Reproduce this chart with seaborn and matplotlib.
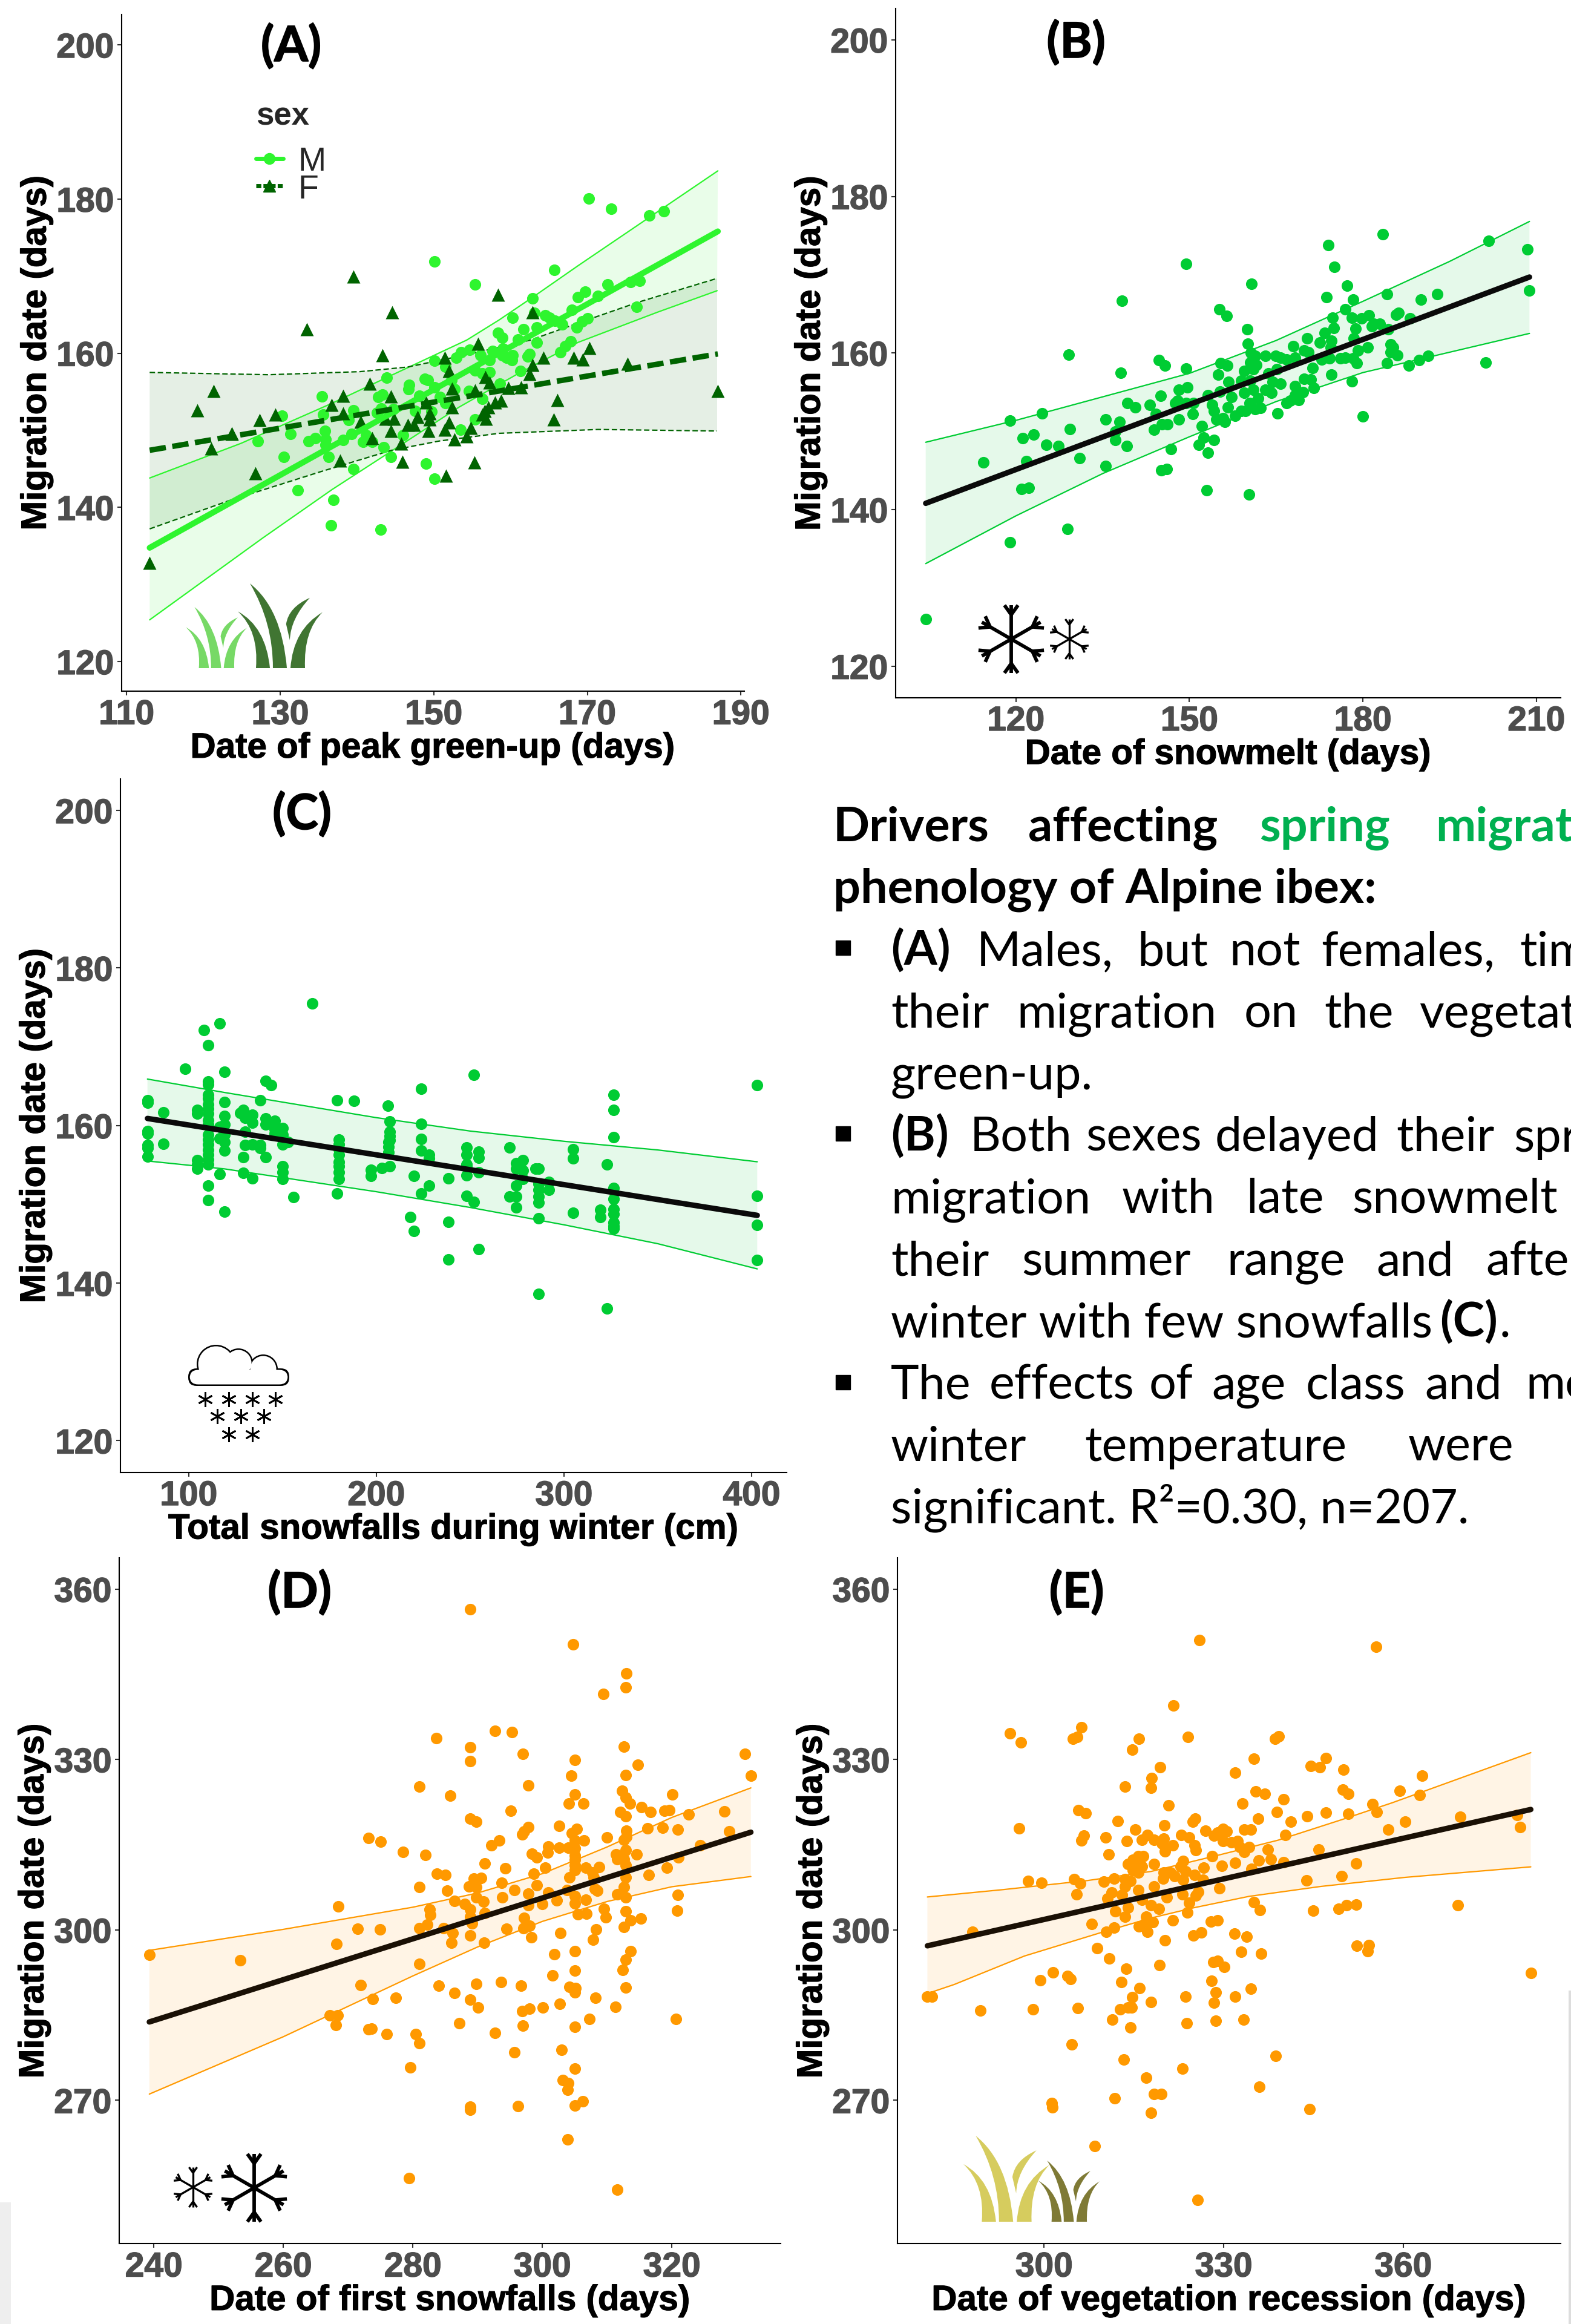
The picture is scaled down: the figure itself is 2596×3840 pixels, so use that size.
import numpy as np
import pandas as pd
import seaborn as sns
import matplotlib.pyplot as plt
import matplotlib.patheffects as pe
from matplotlib.lines import Line2D
from matplotlib.path import Path
from matplotlib.patches import PathPatch, Circle, FancyBboxPatch, Rectangle

# Panel A: peak green-up, by sex
a_male = [(170.2,180.1),(173.1,178.7),(178.1,177.9),(180,178.4),(150.1,171.9),(165.7,170.8),(155.4,168.9),(176.8,169.4),
          (175.6,169.2),(172.6,168.9),(169.7,168),(168.8,167.3),(171.4,167.4),(162.9,167.1),(176.4,166),(168,165.6),
          (160.3,164.6),(164.5,164.9),(165.1,164.6),(165.8,164.2),(166.7,163.7),(170,164.5),(169.3,164.1),(163.1,165.2),
          (161.7,163.1),(163.4,163.3),(168.6,163.3),(158.4,162.6),(158.9,162),(161,161.8),(163.4,161.4),(167.8,161.5),
          (167.1,160.9),(166.5,160.1),(159,160.6),(157.7,160.3),(154.7,160.4),(153.6,160.1),(152.9,159.4),(150.1,159),
          (156.1,159.7),(157.3,159.1),(158.9,159.7),(159.5,159.4),(160.3,159.7),(160.2,159.1),(162.2,159.6),(162.5,159.9),
          (155.4,157.8),(156.3,157.4),(157.3,157.5),(161.3,157.7),(158.6,156),(151.5,158.2),(143.9,156.8),(148.8,156.7),
          (149.2,156.5),(146.8,155.9),(146.7,155.3),(150.1,155.6),(148.1,154.5),(152.3,156.5),(152.7,155.3),(154.6,155.1),
          (143.3,154.6),(142.8,154.3),(135.4,154.4),(150.8,154.3),(156.3,154.1),(151.5,153.5),(147.6,152.5),(149.7,152.4),
          (143.2,152.8),(144.7,152.7),(142.6,152.3),(139.5,152.6),(135.6,152),(130.2,151.9),(138.9,151.3),(155.4,151.4),
          (153.5,150.1),(131.3,149.5),(134.6,149),(133.7,148.6),(135.8,149.9),(135.9,148.8),(135.9,148.1),(138.2,148.7),
          (139.3,149.5),(141.2,149.4),(140.8,148.5),(142,148.5),(146,149.4),(127.1,148.6),(143.5,147.8),(130.5,146.5),
          (136.3,146.5),(144.4,146.5),(139.5,145),(149,145.7),(150.1,143.7),(132.3,142.2),(136.9,141),(136.6,137.7),(143.1,137.1)]
a_female = [(139.5,169.9),(158.4,167.6),(144.6,165.3),(162.9,165.3),(133.5,163.1),(155.8,161.2),(170.3,160.7),(143.3,159.7),
            (151.4,159.4),(168.2,159.4),(169.4,159.2),(164.3,159.4),(175.2,158.6),(152,157.7),(162.9,158.5),(162.5,157.3),
            (141.7,156),(156.7,156.9),(157.3,156.2),(161.4,155.6),(159.7,155.5),(187,155.1),(121.3,155.1),(152.4,155.4),
            (155.4,155.2),(138.2,154.5),(144.4,154.4),(166.1,153.9),(158.8,153.8),(158,153.6),(149,153.6),(136.7,153.3),
            (152.4,153),(157.1,153),(156.6,152.5),(119.2,152.6),(138.2,152.2),(129.4,152),(156.3,152),(156.8,151.5),
            (149.5,152.2),(149.5,151.4),(127.3,151.3),(144.8,151.5),(143.7,151.5),(165.6,151.4),(147.9,151.7),(140.5,151.1),
            (152,151),(146.6,150.7),(147.4,150.7),(154.8,150.3),(151.4,150.1),(144.4,149.9),(149.3,149.9),(123.7,149.6),
            (123.7,149.5),(142,149),(154.3,149.2),(152.7,148.8),(145.8,148.3),(121,147.6),(137.8,146.1),(145.9,145.9),
            (155.3,145.8),(126.8,144.4),(151.6,144.1),(113,132.8)]
a_male_fit = [(113,134.75),(187,175.8)]
a_male_up = [(113,143.8),(124.9,148.3),(136.75,153.5),(145.5,157.6),(154.3,161.7),(158.5,164.3),(163.1,167.4),(168.8,171.35),(187,183.65)]
a_male_lo = [(113,125.4),(127.7,136),(136.75,142.3),(144.5,147.3),(153.3,153),(161,157.35),(168.8,161.4),(179.1,165.3),(186.9,168.1)]
a_female_fit = [(113,147.4),(187,159.9)]
a_female_up = [(113,157.5),(128.5,157.2),(140.4,157.6),(146.6,158.2),(154.3,159.8),(162.6,161.7),(168.8,163.9),(176.6,166.6),(186.9,169.7)]
a_female_lo = [(113,137.2),(123.3,140.85),(135.2,144.6),(144.5,147.4),(150.7,148.6),(158.5,149.6),(171.4,150.1),(186.9,149.9)]

# Panel B: snowmelt
b_points = [(104.4,126),(119,135.8),(128.9,137.5),(114.4,146),(119,151.4),(121.2,149.1),(123.1,149.6),(124.5,152.3),
            (121.8,146.2),(121,142.6),(122.2,142.8),(125.3,148.3),(127.4,148.1),(129.1,159.8),(129.3,150.3),(131,146.6),
            (135.5,151.5),(135.5,145.6),(138.3,166.7),(138.1,157.5),(137.9,151.2),(137.2,150),(137.2,148.9),(139.2,148.1),
            (139.3,153.6),(140.6,153.1),(143.2,153.4),(144.2,152.2),(143.9,150.2),(144.7,159.1),(145.8,158.4),(145,154.5),
            (145.2,150.9),(146.2,150.9),(145.1,145),(146.1,145.2),(146.8,147.7),(148.2,151.5),(148.2,155.3),(148,153.9),
            (147.5,153.6),(149.4,171.4),(149.4,158),(149.6,155.6),(149.4,153.6),(150.7,153.6),(150.6,152.2),(152.1,150.7),
            (152.5,149.2),(151.6,148.3),(153,142.5),(153.2,147.3),(154.2,148.9),(153.2,154.6),(153.9,153.4),(154.2,152.6),
            (154.7,151.5),(155.8,151.7),(156.1,151.2),(155.2,165.6),(156.4,164.7),(155.4,158.7),(156.5,158.4),(155,157.2),
            (156.7,156.3),(155.3,155.1),(157.3,154.4),(156.6,153.1),(157.9,152),(158.9,152.6),(159.7,152.6),(159,156.5),
            (159.5,154.9),(159.5,157.7),(160.3,141.9),(160.7,168.8),(160,163),(160.1,161.2),(160.6,160),(161.4,159.6),
            (160.5,158.8),(161.6,158.5),(161,157.9),(160.5,156.5),(161,155.3),(160.4,153.6),(161.4,152.8),(162.3,153),
            (161.9,154.2),(163.1,159.6),(163.7,157.4),(163.1,155.3),(164.2,154.9),(164.4,156.3),(165.1,157.9),(165.7,156.1),
            (164.9,159.6),(165.7,159.4),(166.8,159.2),(165.2,152.3),(166.8,153.6),(167.4,153.9),(168.3,159.4),(167.9,160.9),
            (168.3,155.8),(168.9,154),(168.3,154.6),(169.6,155),(169.8,156.7),(169.8,160.3),(170.6,160.1),(170.4,161.9),
            (171,156.6),(171.3,158.1),(171.5,155.5),(172.6,161.3),(173.4,162.6),(172.9,159.2),(174,173.8),(173.7,167.1),
            (175.1,171),(177.3,168.6),(174.8,164.5),(175,163.2),(174.5,161.6),(174.4,160.7),(174.2,159.3),(174.5,157.2),
            (176.1,159.3),(177,159.4),(178.1,156.4),(178.3,159.3),(177,165.6),(178.3,166.8),(178.1,164.5),(178.7,163.1),
            (178.4,161.9),(179.1,160.3),(178.9,158.7),(179.8,164.4),(181,164.8),(180,151.9),(180.8,160.7),(181.6,163.4),
            (183.4,175.2),(181.9,163.7),(182.9,163.7),(184.2,167.5),(184.2,158.7),(184.4,163),(184.8,161.1),(185.2,160.7),
            (184.8,160.1),(185.9,159.7),(185.7,164.9),(186.2,165.1),(188.1,164.4),(187.9,158.4),(189.7,159.1),(190,166.8),
            (191.3,159.6),(192.9,167.5),(201.7,174.3),(201.2,158.8),(208.4,173.2),(208.8,168)]
b_fit = [(104.4,140.8),(208.8,169.7)]
b_up = [(104.4,148.6),(120,151.4),(135,154.4),(150,157.4),(165,161.6),(180,166.6),(195,171.7),(208.8,176.8)]
b_lo = [(104.4,133.1),(120,139.2),(135,144.6),(150,149.3),(165,153.8),(180,157.5),(195,160.1),(208.8,162.5)]

# Panel C: total snowfall
c_points = [(78,163.2),(78,162.9),(78,159.3),(78,159),(78,157.5),(78,157.1),(78,156.1),(86.5,161.7),(86.5,157.7),(98,167.2),
            (104.5,162),(104.5,161.5),(104.5,155.6),(104.5,155.1),(104.5,154.5),(108,172.1),(110.5,170.2),(110.5,165.6),
            (110.5,165.2),(110.5,163.9),(110.5,163.4),(110.5,162.7),(110.5,162.1),(110.5,161.5),(110.5,160.7),(110.5,160.1),
            (110.5,158.8),(110.5,158.2),(110.5,157.6),(110.5,156.9),(110.5,156.3),(110.5,155.7),(110.5,155.1),(110.5,152.4),
            (110.5,150.5),(116.5,173),(116.5,153.8),(116.5,158.4),(116.5,159.8),(119,166.8),(119,163),(119,161.2),(119,160.1),
            (119,158.8),(119,157.9),(119,156.8),(119,149.1),(127.5,161.6),(129,162),(130,161),(129,156),(129,154),(130,159.2),
            (130,157.5),(134,161.4),(134,160.4),(134,157.6),(134,153.3),(138,163.2),(138,157.5),(138,157.1),(141,165.7),
            (141,160.9),(141,160.1),(141,156),(144,165.1),(146,160.6),(146,159.5),(146,159),(150,159.7),(150,158.8),(150,157.6),
            (150,154.8),(150,154.1),(150,153.2),(153,157.9),(156,150.9),(166,175.5),(179,163.2),(179,151.4),(180,158.2),
            (180,157.6),(180,157),(180,156.3),(180,155.4),(180,154.8),(180,154.1),(180,153.2),(188,163.1),(197,154.4),(197,153.6),
            (203,154.6),(206,162.5),(206.5,157.9),(206.5,157.3),(206.5,156.6),(207,160.5),(207,159.2),(207,158.7),(207,158.1),
            (207,154.8),(218,148.4),(220,153.6),(220,146.6),(224,164.7),(224,160.2),(224,158.3),(224,156.8),(224,151.4),
            (228,156.3),(228,155.8),(228,152.4),(238.5,153.3),(238.5,147.8),(238.5,143),(248,157.2),(248,156.3),(248,155.1),
            (248,154.8),(248,153.7),(248,151.1),(252,166.4),(252,150.3),(254.5,156.7),(254.5,155.9),(254.5,154.1),(254.5,144.3),
            (271,157.2),(271,151),(274.5,155.2),(274.5,154.5),(274.5,152.4),(274.5,151),(274.5,149.6),(278,155.6),(278,154.3),
            (278,153.2),(285,154.5),(286.5,154.5),(286.5,152.6),(286.5,151.8),(286.5,151),(286.5,150.2),(286.5,148.2),(286.5,138.6),
            (292,152.8),(292,151.8),(305,157),(305,155.8),(305,148.9),(319.5,149.3),(319.5,148.4),(323,155.1),(323,136.8),
            (326.5,163.9),(326.5,162),(326.5,158.5),(326.5,152.1),(326.5,150.7),(326.5,149.4),(326.5,148.8),(326.5,147.7),
            (326.5,147.2),(326.5,146.9),(403,165.1),(403,151.1),(403,147.4),(403,142.9)]
c_fit = [(78,160.9),(403,148.6)]
c_up = [(78,165.9),(119,164.2),(200,161),(250,159.3),(300,158),(350,156.9),(403,155.4)]
c_lo = [(78,155.5),(119,154.5),(200,151.6),(250,149.6),(300,147.4),(350,145),(403,141.8)]

# Panel D: first snowfalls
d_points = [(288.9,356.4),(304.7,350.3),(313,345.1),(312.9,342.7),(309.4,341.5),(292.7,335),(295.3,334.8),(283.6,333.8),
            (288.9,332.2),(312.6,332.3),(297,331),(331.3,331),(288.9,329.7),(305,329.9),(314.7,329.1),(304.5,327.2),(312.9,327.3),
            (332.2,327.2),(297.8,325.4),(281,325.2),(312.3,324.5),(320.1,323.8),(305,323.8),(285.8,323.6),(312.9,323.3),
            (304.1,322.3),(306.3,322.3),(313.5,322.2),(315.3,321.6),(295.1,321),(316.7,320.8),(318.9,321),(319.6,321.1),(312,320.8),
            (312.9,320),(322.6,320.3),(328.1,320.9),(288.9,319.6),(289.8,319.1),(297.8,318.1),(302.6,318.3),(305.3,317.8),
            (316.2,317.9),(318.6,318),(320.9,317.7),(313,317.5),(328.9,317.4),(297.2,317.3),(296.9,316.8),(304.6,317),(310,316.3),
            (273.2,316.2),(313,316.4),(312.6,315.9),(275,315.5),(305,315.7),(293.3,315.7),(306.4,315.7),(292.1,314.9),(324.4,314.9),
            (300.9,314.7),(302.6,314.5),(304,314.5),(305,314.4),(312.9,314),(278.5,313.7),(300.8,313.6),(281.9,313.2),(298.4,313.4),
            (299.1,312.8),(314.6,313.3),(311.4,313.3),(311.6,312.5),(312.6,312.4),(321,312.8),(305,313.1),(305,312.3),(305,311.4),
            (305,310.5),(291.1,311.7),(312.9,311.4),(300.4,311),(294.3,310.8),(306.7,311),(308.8,311.1),(319.2,311),(283.7,309.9),
            (285,309.7),(298.7,309.9),(307.7,310.1),(316.4,309.7),(289.4,309),(290.5,309.1),(304.2,309.2),(312.9,309.2),(293.7,308.3),
            (307.9,309.2),(299.1,307.9),(281,307.6),(288.7,307.7),(289.8,307.6),(312.6,307.5),(308.1,307.2),(308.5,306.9),(285.3,306.9),
            (295.7,307),(303.8,307),(297.8,306.4),(300.9,306.6),(311.6,306.3),(320.9,306.2),(289.8,305.7),(293.8,305.7),(305,306),
            (312.9,305.7),(286.4,305.1),(290.9,305),(302.2,305.2),(306.7,305.3),(305,304.7),(288,304.6),(297.8,304.3),(300,304.6),
            (268.5,304.1),(288.9,303.6),(282.6,303.6),(309.5,303.7),(312.9,303.3),(320.8,303.4),(282.7,302.6),(291.1,303),(288.9,302.3),
            (305.5,302.7),(306.8,302.9),(297.2,302.1),(309.8,302.2),(313.6,301.7),(315.2,302),(289.1,301.2),(282.2,300.9),(312.6,300.5),
            (298,300.7),(271.5,300.2),(274.9,300.1),(281,300.3),(284.7,300.3),(294.5,300.2),(297.1,300.3),(308.3,300.1),(286.1,299.5),
            (302.8,299.5),(288.9,299),(298.3,298.7),(307.8,298.3),(286,297.7),(291,297.7),(268.2,297.5),(305,296.3),(313.6,296.3),
            (239.3,295.6),(301.8,295.7),(253.3,294.7),(312.9,294.8),(281,294),(312.4,293),(305,292.8),(301.6,292),(289.8,290.5),
            (293.6,290.8),(284,290.2),(296.7,290.2),(312.9,289.9),(271.9,290.3),(304.2,290),(305.1,289.8),(305,289),(286.4,288.9),
            (273.8,287.8),(277.4,288.1),(288.9,287.7),(308.2,288.1),(302.7,287),(290.1,286.3),(300.1,286.4),(311.3,286.5),(298,286.1),
            (296.9,285.7),(267.2,285),(268.4,285),(320.6,284.3),(307.3,284.3),(287.2,283.6),(268.1,283.3),(297,283.1),(305,282.9),
            (273.2,282.5),(273.6,282.6),(292.7,281.9),(276,281.7),(280.4,281.7),(281,280.1),(303,278.9),(295.7,278.5),(279.6,275.8),
            (305,275.6),(303.2,273.6),(304,273),(303.9,271.9),(306.2,269.8),(305,269.1),(296.2,269),(288.9,268.9),(288.9,268.3),
            (303.9,263.1),(279.4,256.3),(311.6,254.3)]
d_fit = [(239.3,283.8),(332.2,317.2)]
d_up = [(239.3,296.4),(260,300.1),(280,304),(290,306.5),(300,309.9),(310,314.6),(320,319.8),(332.2,325)]
d_lo = [(239.3,271.1),(260,281.2),(280,291.9),(290,297),(300,301.5),(310,305),(320,307.6),(332.2,309.4)]

# Panel E: vegetation recession
e_points = [(325.9,351),(355.5,349.8),(321.6,339.5),(294.3,334.6),(296.1,333),(306.2,335.7),(305.5,334),(304.8,333.6),(315.8,333.6),
            (324,334),(314.7,331.7),(338.6,333.6),(339.2,334.1),(335,330.1),(347.1,330.2),(344.5,328.8),(346.1,328.6),(319.4,328.6),
            (350,328.2),(331.9,327.7),(363.1,327.2),(318,326.7),(317.9,325),(313.5,325.2),(335.3,324.4),(336.9,323.9),(349.9,324.7),
            (350.8,323.9),(359.4,324.5),(362.7,323.7),(340,323),(333.1,322.3),(320.8,321.9),(354.9,322.1),(305.7,321.1),(306.9,320.5),
            (338.9,320.8),(355.6,320.8),(347.1,320.6),(350.8,320.4),(343.9,320),(369.5,319.9),(379,320.2),(335.8,319.6),(325.2,319.6),
            (324.8,319),(312.3,319.2),(341.2,319.1),(360.3,319.1),(295.8,317.9),(320.1,318.4),(379.5,318.1),(357.5,317.7),(329.9,317.8),
            (327,317.5),(333.4,317.7),(334.5,317.7),(315.2,317.7),(330.5,317.3),(329,317.1),(328.4,316.6),(310.3,316.3),(306.6,316.6),
            (306.2,315.7),(317.3,316.7),(316.3,315.9),(318.4,315.9),(320,316.1),(322.9,316.7),(324.2,316.3),(340.3,316.7),(313.8,315.6),
            (329.9,315.6),(331.3,315.4),(332.3,315.6),(319.7,315.2),(321.5,314.9),(325.1,314.9),(332.7,314.6),(334.2,314.6),(345.9,314.2),
            (337.4,314.2),(320.2,313.8),(325.3,314),(333.4,313.7),(310.8,313.3),(328.1,313),(337.9,312.5),(335.9,312.2),(316.5,313),
            (315.7,313),(314.8,312.3),(314,311.6),(315.3,311.4),(318.4,311.6),(323.2,312.1),(331.9,311.8),(340,311.9),(352.1,311.7),
            (316.3,311.2),(329.7,311.3),(322.8,311.2),(326.7,311),(334.6,310.7),(314.8,310.5),(315.7,310.1),(320,310.1),(321.1,310.1),
            (323.6,310.3),(349.7,309.5),(325.1,309.7),(321.8,309.5),(319.9,309),(305,308.9),(311.7,309),(313.5,308.9),(314.4,308.6),
            (323.2,308.8),(326.6,308.8),(343.8,308.7),(297.3,308.6),(299.6,308.3),(306,308.2),(310,308.5),(313.5,307.7),(318.4,307.7),
            (329.3,307.3),(315.7,307),(311.3,306.6),(325.7,306.7),(305.4,306.3),(313,306.2),(323.1,306.3),(325.3,306.1),(310.6,305.5),
            (316.3,305.3),(320.5,305.7),(324.2,304.8),(335,304.9),(369.1,304.3),(352.1,304.5),(350.5,304.3),(349.2,303.7),(336.1,303.5),
            (345,303.4),(317.9,304.3),(314,303.9),(319.2,303.7),(311.9,303.3),(323.9,303.1),(313.5,302.3),(317.1,302.3),(321.5,301.7),
            (327.9,301.5),(329,301.7),(308,301.1),(318.2,301.4),(316.7,301),(315.8,300.6),(311.7,300.4),(288,299.7),(310.4,299.7),
            (317.3,299.7),(326.3,299.6),(331.8,299.3),(333.8,298.8),(324.9,299),(320.2,298.2),(352.2,297.2),(354.3,297.3),(354.1,296.3),
            (308.9,296.8),(332.9,296.2),(336.3,295.8),(310.9,295),(328.3,294.3),(329,294.6),(319.3,293.8),(330.1,293.5),(313.7,293.2),
            (301.5,292.5),(381.3,292.4),(303.9,291.9),(304.4,291.4),(299.4,291.1),(312.9,290.8),(328,291),(315.9,289.8),(334.5,289.7),
            (328.7,289),(280.5,288.3),(281.3,288.3),(323.6,288.3),(331.9,288.3),(314.7,288.2),(317.9,287.3),(328.4,287.2),(289.4,285.8),
            (298.1,286),(305.6,286.2),(312.7,286),(314,286.3),(314.6,286.4),(311.4,284.2),(328.7,284),(333.3,284.2),(323.8,283.6),
            (314.4,282.8),(304.6,279.8),(338.7,277.8),(313.3,277.2),(323.1,275.6),(317.1,274),(336,272.4),(318.4,271.1),(319.6,271.1),
            (311.8,270.4),(301.3,269.5),(301.4,268.8),(317.9,267.8),(344.3,268.5),(308.5,261.9),(325.6,252.5)]
e_fit = [(280.5,297.2),(381.3,321.2)]
e_up = [(280.5,305.8),(293.2,307.1),(307.3,308.7),(317.9,310.3),(328.5,313),(339.1,315.8),(349.7,319.4),(358.2,322.4),(381.3,331.2)]
e_lo = [(280.5,288.8),(285,290.4),(296.7,295.4),(309.4,299.5),(317.9,302.1),(325,303.9),(334.2,305.9),(346.2,307.65),(360.3,309.25),(381.3,311.1)]

GREEN_M = "#2EF52E"
GREEN_F = "#006400"
GREEN = "#00CC33"
ORANGE = "#FF9900"
BOLD = "Liberation Sans"
W, H = 2596, 3841

sns.set_theme(style="white")
fig = plt.figure(figsize=(W / 100, H / 100), dpi=100, facecolor="white")


def make_axes(box, xlim, ylim, xticks, yticks):
    left, top, right, bottom = box
    ax = fig.add_axes([left / W, 1 - bottom / H, (right - left) / W, (bottom - top) / H])
    ax.set_xlim(xlim)
    ax.set_ylim(ylim)
    ax.set_xticks(xticks)
    ax.set_yticks(yticks)
    ax.tick_params(length=5, width=1.5, color="#333333", pad=4, bottom=True, left=True)
    for side in ["top", "right"]:
        ax.spines[side].set_visible(False)
    for side in ["left", "bottom"]:
        ax.spines[side].set_linewidth(1.5)
        ax.spines[side].set_color("black")
    ax.patch.set_alpha(0)
    return ax


def band(ax, up, lo, colour, ls="-"):
    up = np.array(up)
    lo = np.array(lo)
    ax.fill(np.r_[up[:, 0], lo[::-1, 0]], np.r_[up[:, 1], lo[::-1, 1]], color=colour, alpha=0.1, lw=0, zorder=1)
    for edge in (up, lo):
        sns.lineplot(x=edge[:, 0], y=edge[:, 1], ax=ax, color=colour, lw=1.6, ls=ls, errorbar=None, zorder=2)


def points(ax, data, colour, marker="o", size=190):
    df = pd.DataFrame(data, columns=["x", "y"])
    sns.scatterplot(data=df, x="x", y="y", ax=ax, color=colour, marker=marker, s=size, linewidth=0, zorder=3)


def fit_line(ax, data, colour, lw=6.5, ls="-"):
    df = pd.DataFrame(data, columns=["x", "y"])
    sns.lineplot(data=df, x="x", y="y", ax=ax, color=colour, lw=lw, ls=ls, errorbar=None, zorder=4)


def finish(ax, xlabel):
    # seaborn has put its own names on the axes by now
    ax.set_xlabel(xlabel, fontsize=42, fontweight="bold", family=BOLD, color="black", labelpad=1)
    ax.set_ylabel("Migration date (days)", fontsize=42, fontweight="bold", family=BOLD, color="black", labelpad=4)
    for lab in ax.get_xticklabels() + ax.get_yticklabels():
        lab.set_fontsize(41)
        lab.set_fontweight("bold")
        lab.set_family(BOLD)
        lab.set_color("#4D4D4D")
        lab.set_path_effects([pe.withStroke(linewidth=1, foreground="#4D4D4D")])
    for lab in (ax.xaxis.label, ax.yaxis.label):
        lab.set_path_effects([pe.withStroke(linewidth=0.8, foreground="black")])


y_spring = [120, 140, 160, 180, 200]
y_autumn = [270, 300, 330, 360]

# A
ax_a = make_axes((201, 24.5, 1230, 1143), (109.35, 190.45), (116.15, 203.97), [110, 130, 150, 170, 190], y_spring)
band(ax_a, a_male_up, a_male_lo, GREEN_M)
band(ax_a, a_female_up, a_female_lo, GREEN_F, ls=(0, (4, 2)))
points(ax_a, a_male, GREEN_M)
points(ax_a, a_female, GREEN_F, marker="^", size=250)
fit_line(ax_a, a_male_fit, GREEN_M, lw=7)
fit_line(ax_a, a_female_fit, GREEN_F, lw=6.5, ls=(0, (3, 1.2)))
finish(ax_a, "Date of peak green-up (days)")
handles = [Line2D([], [], color=GREEN_M, marker="o", markersize=13, lw=5, label="M"),
           Line2D([], [], color=GREEN_F, marker="^", markersize=14, lw=5, ls=(0, (1.2, 0.5)), label="F")]
leg = ax_a.legend(handles=handles, title="sex", loc="upper left", bbox_to_anchor=(0.189, 0.897), frameon=False,
                  handlelength=0.8, handletextpad=0.45, labelspacing=-0.12, borderpad=0, alignment="left",
                  prop={"family": BOLD, "size": 40})
leg.get_title().set_fontsize(38)
leg.get_title().set_fontweight("bold")
leg.get_title().set_family(BOLD)
leg._legend_box.sep = 18

# B
ax_b = make_axes((1480, 15, 2579, 1153.5), (99.2, 214.2), (116.0, 204.0), [120, 150, 180, 210], y_spring)
band(ax_b, b_up, b_lo, GREEN)
points(ax_b, b_points, GREEN)
fit_line(ax_b, b_fit, "#0A0A0A")
finish(ax_b, "Date of snowmelt (days)")

# C
ax_c = make_axes((199, 1288, 1300, 2433.5), (63.6, 418.7), (116.0, 204.0), [100, 200, 300, 400], y_spring)
band(ax_c, c_up, c_lo, GREEN)
points(ax_c, c_points, GREEN)
fit_line(ax_c, c_fit, "#0A0A0A")
finish(ax_c, "Total snowfalls during winter (cm)")

# D
ax_d = make_axes((197, 2575, 1290, 3708), (234.65, 336.8), (244.8, 365.5), [240, 260, 280, 300, 320], y_autumn)
band(ax_d, d_up, d_lo, ORANGE)
points(ax_d, d_points, ORANGE)
fit_line(ax_d, d_fit, "#1A1005")
finish(ax_d, "Date of first snowfalls (days)")

# E
ax_e = make_axes((1483, 2575, 2579, 3708), (275.5, 386.3), (244.8, 365.5), [300, 330, 360], y_autumn)
band(ax_e, e_up, e_lo, ORANGE)
points(ax_e, e_points, ORANGE)
fit_line(ax_e, e_fit, "#1A1005")
finish(ax_e, "Date of vegetation recession (days)")

# overlay in pixel coordinates for the icons and the text block
top = fig.add_axes([0, 0, 1, 1], zorder=10)
top.set_xlim(0, W)
top.set_ylim(H, 0)
top.axis("off")


def shape(x0, y0, s, pts, codes, colour):
    verts = [(x0 + p[0] * s, y0 - p[1] * s) for p in pts]
    top.add_patch(PathPatch(Path(verts, codes), fc=colour, ec="none"))


def grass(x0, y0, s, colour):
    codes = [Path.MOVETO, Path.CURVE3, Path.CURVE3, Path.LINETO, Path.CURVE3, Path.CURVE3]
    shape(x0, y0, s, [(0, 0.67), (0.25, 0.44), (0.214, 0), (0.379, 0), (0.33, 0.49), (0, 0.67)], codes, colour)
    shape(x0, y0, s, [(0.143, 1), (0.417, 0.536), (0.414, 0), (0.579, 0), (0.52, 0.70), (0.143, 1)], codes, colour)
    shape(x0, y0, s, [(1, 0.66), (0.774, 0.44), (0.793, 0), (0.621, 0), (0.655, 0.46), (1, 0.66)], codes, colour)
    shape(x0, y0, s, [(0.85, 0.83), (0.60, 0.72), (0.57, 0.52), (0.614, 0.33), (0.62, 0.58), (0.85, 0.83)], codes, colour)


def snowflake(cx, cy, r, lw):
    for ang in (90, 30, 150):
        a = np.deg2rad(ang)
        dx, dy = r * np.cos(a), r * np.sin(a)
        top.plot([cx - dx, cx + dx], [cy - dy, cy + dy], color="black", lw=lw, solid_capstyle="butt")
        for sign in (-1, 1):
            ex, ey = cx + sign * dx, cy + sign * dy
            mx, my = cx + sign * dx * 0.72, cy + sign * dy * 0.72
            for off in (-1, 1):
                ox, oy = -np.sin(a) * r * 0.2 * off, np.cos(a) * r * 0.2 * off
                top.plot([mx, ex + ox], [my, ey + oy], color="black", lw=lw, solid_capstyle="butt")


grass(307, 1105, 101, "#77D966")
grass(393, 1105, 140, "#407532")
grass(1592, 3672, 142, "#D6CC5E")
grass(1716, 3672, 101, "#7F7A35")
snowflake(1671, 1057, 56, 4.2)
snowflake(1767, 1057, 33, 2.4)
snowflake(319, 3615, 33, 2.4)
snowflake(420, 3616, 56, 4.2)

# cloud: black shapes under slightly smaller white ones
cloud_circles = [(357, 2255, 32), (394, 2253, 24), (435, 2263, 24)]
for grow, colour in ((0, "black"), (-2.5, "white")):
    for cx, cy, r in cloud_circles:
        top.add_patch(Circle((cx, cy), r + grow, fc=colour, ec="none"))
    top.add_patch(FancyBboxPatch((325 - grow, 2276 - grow), 139 + 2 * grow, 1 + 2 * grow,
                                 boxstyle="round,pad=14", fc=colour, ec="none"))
for row_y, row_x in ((2313, (339, 378, 417, 455)), (2341, (359, 398, 436)), (2371, (378, 417))):
    top.plot(row_x, [row_y] * len(row_x), ls="none", marker=(6, 2, 0), ms=18, mew=2, color="black")

# faint scan shadows at the edges
top.add_patch(Rectangle((0, 3640), 18, 201, fc="#EEEEEE", ec="none"))
top.add_patch(Rectangle((2592, 3290), 4, 551, fc="#DDDDDD", ec="none"))

for lab, x, y in (("(A)", 481, 78), ("(B)", 1778, 72), ("(C)", 499, 1347), ("(D)", 495, 2633), ("(E)", 1779, 2633)):
    top.text(x, y, lab, ha="center", va="center", fontsize=58, fontweight="bold", family="Lato", color="black",
             path_effects=[pe.withStroke(linewidth=1.2, foreground="black")])

# text block, one justified line at a time: (word, x, style)
TXT = 57
block = [
    (1390, [("Drivers", 1377, 1), ("affecting", 1699, 1), ("spring", 2081, 2), ("migration", 2372, 2)]),
    (1492, [("phenology of Alpine ibex:", 1377, 1)]),
    (1595, [("(A)", 1472, 1), ("Males,", 1614, 0), ("but", 1879, 0), ("not", 2031, 0), ("females,", 2183, 0), ("timed", 2511, 0)]),
    (1697, [("their", 1472, 0), ("migration", 1680, 0), ("on", 2056, 0), ("the", 2188, 0), ("vegetation", 2345, 0)]),
    (1800, [("green-up.", 1472, 0)]),
    (1902, [("(B)", 1472, 1), ("Both", 1603, 0), ("sexes", 1794, 0), ("delayed", 2008, 0), ("their", 2307, 0), ("spring", 2501, 0)]),
    (2004, [("migration", 1472, 0), ("with", 1854, 0), ("late", 2059, 0), ("snowmelt", 2234, 0)]),
    (2107, [("their", 1472, 0), ("summer", 1688, 0), ("range", 2027, 0), ("and", 2274, 0), ("after", 2455, 0)]),
    (2209, [("winter with few snowfalls", 1472, 0), ("(C)", 2379, 1), (".", 2478, 0)]),
    (2312, [("The", 1472, 0), ("effects", 1635, 0), ("of", 1899, 0), ("age", 2002, 0), ("class", 2158, 0), ("and", 2354, 0), ("mean", 2521, 0)]),
    (2414, [("winter", 1472, 0), ("temperature", 1792, 0), ("were", 2327, 0)]),
    (2516, [("significant. R²=0.30, n=207.", 1472, 0)]),
]
for y, words in block:
    for word, x, style in words:
        top.text(x, y, word, ha="left", va="baseline", fontsize=TXT, family="Lato",
                 fontweight="bold" if style else "normal", color="#00B050" if style == 2 else "black", clip_on=False)
top.plot([1393, 1393, 1393], [1567, 1874, 2285], ls="none", marker="s", ms=17, color="black")

fig.savefig("out.png", dpi=100)
